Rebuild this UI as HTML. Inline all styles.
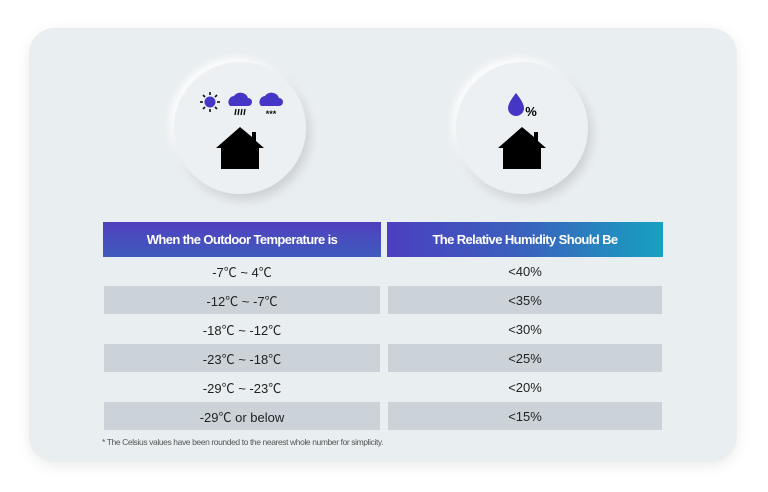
<!DOCTYPE html>
<html><head><meta charset="utf-8"><style>
body{margin:0;width:768px;height:492px;background:#fff;position:relative;overflow:hidden;font-family:"Liberation Sans","Noto Sans CJK SC",sans-serif}
.card{position:absolute;left:29px;top:28px;width:708px;height:434px;border-radius:26px;background:#e9eef1;box-shadow:0 4px 14px rgba(0,0,0,0.08)}
.circle{position:absolute;width:132px;height:132px;border-radius:50%;background:#edf0f2;box-shadow:4px 6px 10px rgba(0,0,0,0.12),-4px -4px 8px rgba(255,255,255,0.9)}
.hdr{position:absolute;top:222px;height:35px;color:#fff;font-size:13px;font-weight:bold;letter-spacing:-0.6px;display:flex;align-items:center;justify-content:center}
.cell{position:absolute;height:28px;display:flex;align-items:center;justify-content:center;font-size:13px;color:#222}
.gray{background:#cbd3d9}
</style></head><body>
<div class="card"></div>
<div class="circle" style="left:174px;top:62px">
<svg width="132" height="132" viewBox="0 0 132 132">
<g stroke="#111" stroke-width="1.6">
<circle cx="36" cy="40" r="5.5" fill="#4636c6" stroke="none"/>
<line x1="36" y1="30" x2="36" y2="33"/><line x1="36" y1="47" x2="36" y2="50"/><line x1="26" y1="40" x2="29" y2="40"/><line x1="43" y1="40" x2="46" y2="40"/>
<line x1="29" y1="33" x2="31" y2="35"/><line x1="41" y1="45" x2="43" y2="47"/><line x1="29" y1="47" x2="31" y2="45"/><line x1="41" y1="35" x2="43" y2="33"/></g>
<g><path d="M56 44a6 6 0 0 1 4-10a8 8 0 0 1 14 2a4 4 0 0 1 0 8z" fill="#4636c6"/>
<g stroke="#111" stroke-width="1.4"><line x1="62" y1="47" x2="61" y2="53"/><line x1="65" y1="47" x2="64" y2="53"/><line x1="68" y1="47" x2="67" y2="53"/><line x1="71" y1="47" x2="70" y2="53"/></g></g>
<g><path d="M87 44a6 6 0 0 1 4-10a8 8 0 0 1 14 2a4 4 0 0 1 0 8z" fill="#4636c6"/>
<text x="97" y="55" font-size="9" font-weight="bold" text-anchor="middle" fill="#111">***</text></g>
<path d="M66 65l-24 21h5v21h38v-21h5l-8-7v-9h-4v5z" fill="#000"/>
</svg></div>
<div class="circle" style="left:456px;top:62px">
<svg width="132" height="132" viewBox="0 0 132 132">
<path d="M60 31q-8 10-8 15a8 8 0 0 0 16 0q0-5-8-15z" fill="#4636c6"/>
<text x="75" y="54" font-size="13" font-weight="bold" text-anchor="middle" fill="#000">%</text>
<path d="M66 65l-24 21h5v21h38v-21h5l-8-7v-9h-4v5z" fill="#000"/>
</svg></div>
<div class="hdr" style="left:103px;width:278px;background:linear-gradient(180deg,#5040be,#3f5bbd)">When the Outdoor Temperature is</div>
<div class="hdr" style="left:387px;width:276px;background:linear-gradient(90deg,#4b3fc0,#3a62bd 50%,#17a1c0)">The Relative Humidity Should Be</div>

<div class="cell" style="left:103px;width:278px;top:257px">-7℃ ~ 4℃</div>
<div class="cell" style="left:387px;width:276px;top:257px">&lt;40%</div>
<div class="cell gray" style="left:104px;width:276px;top:286px">-12℃ ~ -7℃</div>
<div class="cell gray" style="left:388px;width:274px;top:286px">&lt;35%</div>
<div class="cell" style="left:103px;width:278px;top:315px">-18℃ ~ -12℃</div>
<div class="cell" style="left:387px;width:276px;top:315px">&lt;30%</div>
<div class="cell gray" style="left:104px;width:276px;top:344px">-23℃ ~ -18℃</div>
<div class="cell gray" style="left:388px;width:274px;top:344px">&lt;25%</div>
<div class="cell" style="left:103px;width:278px;top:373px">-29℃ ~ -23℃</div>
<div class="cell" style="left:387px;width:276px;top:373px">&lt;20%</div>
<div class="cell gray" style="left:104px;width:276px;top:402px">-29℃ or below</div>
<div class="cell gray" style="left:388px;width:274px;top:402px">&lt;15%</div>
<div style="position:absolute;left:102px;top:437px;font-size:8.5px;color:#555;letter-spacing:-0.4px">* The Celsius values have been rounded to the nearest whole number for simplicity.</div>
</body></html>
